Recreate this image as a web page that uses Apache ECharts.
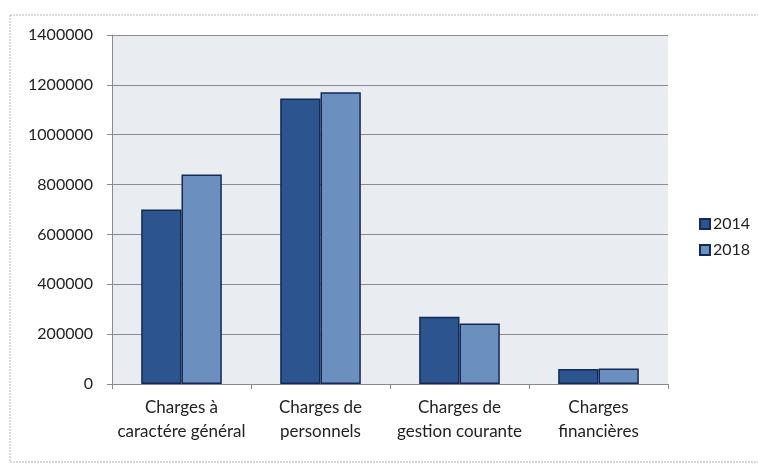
<!DOCTYPE html>
<html>
<head>
<meta charset="utf-8">
<script src="https://cdn.jsdelivr.net/npm/echarts@6/dist/echarts.min.js"></script>
<style>
  html, body { margin: 0; padding: 0; background: #fff; }
  #chart { width: 758px; height: 465px; }
</style>
</head>
<body>
<div id="chart"></div>
<script>
// data
const categories = ['Charges à\ncaractére général', 'Charges de\npersonnels', 'Charges de\ngestion courante', 'Charges\nfinancières']
const seriesNames = ['2014', '2018']
const values2014 = [700000, 1145000, 270000, 60000]
const values2018 = [840000, 1170000, 243000, 62000]
const yTicks = [0, 200000, 400000, 600000, 800000, 1000000, 1200000, 1400000]

const chart = echarts.init(document.getElementById('chart'))
const fontFamily = 'Lato, "Open Sans", sans-serif'

const option = {
  animation: false,
  textStyle: { fontFamily: fontFamily },
  graphic: [
    {
      type: 'rect',
      shape: { x: 10, y: 15, width: 760, height: 447 },
      style: { fill: 'none', stroke: '#b4b4b4', lineWidth: 1, lineDash: [2, 1] },
      z: -1
    }
  ],
  grid: {
    left: 112,
    right: 90,
    top: 35,
    bottom: 81,
    show: true,
    backgroundColor: '#e9ecf1',
    borderWidth: 0
  },
  legend: {
    orient: 'vertical',
    left: 694,
    top: 211,
    itemWidth: 10,
    itemHeight: 10,
    itemGap: 10,
    icon: 'rect',
    textStyle: { fontSize: 16, color: '#222', fontFamily: fontFamily, padding: [0, 0, 0, -2] },
    data: seriesNames
  },
  xAxis: {
    type: 'category',
    data: categories,
    axisLine: { lineStyle: { color: '#8a8a8a' } },
    axisTick: { show: true, length: 5, lineStyle: { color: '#8a8a8a' } },
    axisLabel: { color: '#222', fontSize: 17, lineHeight: 24, margin: 12, interval: 0 }
  },
  yAxis: {
    type: 'value',
    min: 0,
    max: yTicks[yTicks.length - 1],
    interval: yTicks[1] - yTicks[0],
    axisLine: { show: true, lineStyle: { color: '#8a8a8a' } },
    axisTick: { show: true, length: 5, lineStyle: { color: '#8a8a8a' } },
    axisLabel: { color: '#222', fontSize: 16, margin: 19, formatter: function (v) { return String(v) } },
    splitLine: { lineStyle: { color: '#8c8c8c', width: 1 } }
  },
  series: [
    {
      name: seriesNames[0],
      type: 'bar',
      data: values2014,
      barGap: '0%',
      barCategoryGap: '42%',
      itemStyle: { color: '#2c5590', borderColor: '#122a55', borderWidth: 1.5 }
    },
    {
      name: seriesNames[1],
      type: 'bar',
      data: values2018,
      itemStyle: { color: '#6b8fbf', borderColor: '#122a55', borderWidth: 1.5 }
    }
  ]
}

chart.setOption(option)
</script>
</body>
</html>
